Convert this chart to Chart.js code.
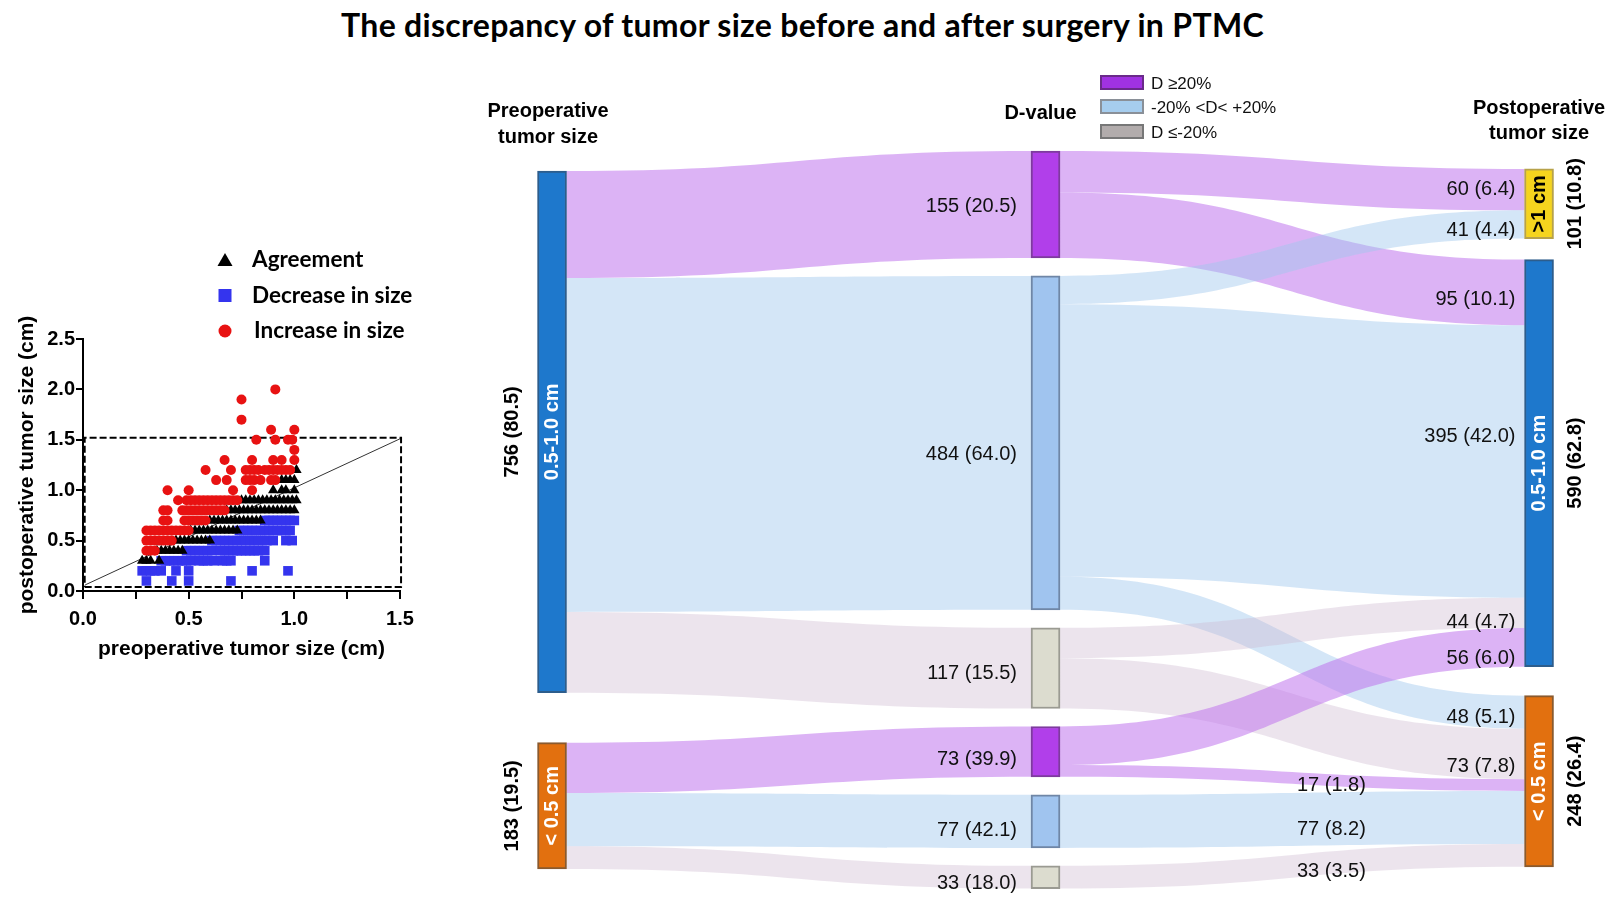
<!DOCTYPE html>
<html><head><meta charset="utf-8">
<script src="https://cdn.jsdelivr.net/npm/chart.js@4.4.1/dist/chart.umd.min.js"></script>
<style>
html,body{margin:0;padding:0;background:#fff;width:1617px;height:908px;overflow:hidden;}
#title{position:absolute;left:0;top:0;width:1605px;height:50px;line-height:50px;text-align:center;font-family:Lato,'Liberation Sans',sans-serif;font-weight:700;font-size:32px;letter-spacing:0.3px;color:#000;}
canvas{position:absolute;}
#scatter{left:0;top:230px;}
#sankey{left:440px;top:60px;}
</style></head><body>
<div id="title">The discrepancy of tumor size before and after surgery in PTMC</div>
<canvas id="scatter" width="440" height="440"></canvas>
<canvas id="sankey" width="1177" height="848"></canvas>
<script>
// ---------------- DATA ----------------
// Sankey
const preLabels = ['0.5-1.0 cm', '< 0.5 cm'];
const preCounts = [756, 183];
const prePercents = ['80.5', '19.5'];
const dLabels = ['D \u226520%', '-20% <D< +20%', 'D \u2264-20%'];
const midCounts = [155, 484, 117, 73, 77, 33];
const midPercents = ['20.5', '64.0', '15.5', '39.9', '42.1', '18.0'];
const postLabels = ['>1 cm', '0.5-1.0 cm', '< 0.5 cm'];
const postCounts = [101, 590, 248];
const postPercents = ['10.8', '62.8', '26.4'];
const flowSource = [0, 0, 1, 1, 1, 2, 2, 3, 3, 4, 5];
const flowTarget = [0, 1, 0, 1, 2, 1, 2, 1, 2, 2, 2];
const flowValues = [60, 95, 41, 395, 48, 44, 73, 56, 17, 77, 33];
const flowPercents = ['6.4', '10.1', '4.4', '42.0', '5.1', '4.7', '7.8', '6.0', '1.8', '8.2', '3.5'];
const columnTitles = [['Preoperative', 'tumor size'], ['D-value'], ['Postoperative', 'tumor size']];

// Scatter
const scatterSeries = ['Agreement', 'Decrease in size', 'Increase in size'];
const agreementPoints = [
 [1.01,1.2],
 [0.94,1.1],[0.96,1.1],[0.98,1.1],[1.00,1.1],
 [0.90,1.0],[0.94,1.0],[0.96,1.0],[1.00,1.0],
 [0.75,0.9],[0.77,0.9],[0.79,0.9],[0.81,0.9],[0.83,0.9],[0.85,0.9],[0.87,0.9],[0.89,0.9],[0.91,0.9],[0.93,0.9],[0.95,0.9],[0.97,0.9],[0.99,0.9],[1.01,0.9],
 [0.68,0.8],[0.70,0.8],[0.72,0.8],[0.74,0.8],[0.76,0.8],[0.78,0.8],[0.80,0.8],[0.82,0.8],[0.84,0.8],[0.86,0.8],[0.88,0.8],[0.90,0.8],[0.92,0.8],[0.94,0.8],[0.96,0.8],[0.98,0.8],[1.00,0.8],
 [0.60,0.7],[0.62,0.7],[0.64,0.7],[0.66,0.7],[0.68,0.7],[0.70,0.7],[0.72,0.7],[0.74,0.7],[0.76,0.7],[0.78,0.7],[0.80,0.7],[0.82,0.7],[0.84,0.7],
 [0.51,0.6],[0.53,0.6],[0.55,0.6],[0.57,0.6],[0.59,0.6],[0.61,0.6],[0.63,0.6],[0.65,0.6],[0.67,0.6],[0.69,0.6],[0.71,0.6],[0.73,0.6],
 [0.44,0.5],[0.46,0.5],[0.48,0.5],[0.50,0.5],[0.52,0.5],[0.54,0.5],[0.56,0.5],[0.58,0.5],[0.60,0.5],
 [0.35,0.4],[0.37,0.4],[0.39,0.4],[0.41,0.4],[0.43,0.4],[0.45,0.4],[0.47,0.4],
 [0.28,0.3],[0.30,0.3],[0.32,0.3],[0.36,0.3]
];
const decreasePoints = [
 [0.86,0.7],[0.88,0.7],[0.90,0.7],[0.92,0.7],[0.94,0.7],[0.96,0.7],[0.98,0.7],[1.00,0.7],
 [0.74,0.6],[0.76,0.6],[0.78,0.6],[0.80,0.6],[0.82,0.6],[0.84,0.6],[0.86,0.6],[0.88,0.6],[0.90,0.6],[0.92,0.6],[0.94,0.6],[0.96,0.6],[0.98,0.6],
 [0.61,0.5],[0.63,0.5],[0.65,0.5],[0.67,0.5],[0.69,0.5],[0.71,0.5],[0.73,0.5],[0.75,0.5],[0.77,0.5],[0.79,0.5],[0.81,0.5],[0.83,0.5],[0.85,0.5],[0.87,0.5],[0.90,0.5],[0.96,0.5],[0.99,0.5],
 [0.49,0.4],[0.51,0.4],[0.53,0.4],[0.55,0.4],[0.57,0.4],[0.59,0.4],[0.61,0.4],[0.65,0.4],[0.67,0.4],[0.69,0.4],[0.71,0.4],[0.73,0.4],[0.75,0.4],[0.77,0.4],[0.79,0.4],[0.81,0.4],[0.83,0.4],[0.86,0.4],
 [0.37,0.3],[0.39,0.3],[0.41,0.3],[0.43,0.3],[0.45,0.3],[0.47,0.3],[0.49,0.3],[0.51,0.3],[0.55,0.3],[0.57,0.3],[0.59,0.3],[0.62,0.3],[0.66,0.3],[0.68,0.3],[0.70,0.3],[0.86,0.3],
 [0.28,0.2],[0.30,0.2],[0.32,0.2],[0.34,0.2],[0.37,0.2],[0.44,0.2],[0.50,0.2],[0.80,0.2],[0.97,0.2],
 [0.30,0.1],[0.42,0.1],[0.50,0.1],[0.70,0.1]
];
const increasePoints = [
 [0.91,2.0],[0.75,1.9],[0.75,1.7],[0.89,1.6],[1.00,1.6],
 [0.82,1.5],[0.91,1.5],[0.97,1.5],[0.99,1.5],[1.00,1.4],
 [0.67,1.3],[0.80,1.3],[0.90,1.3],[0.94,1.3],[1.00,1.3],
 [0.58,1.2],[0.70,1.2],[0.77,1.2],[0.79,1.2],[0.81,1.2],[0.83,1.2],[0.86,1.2],[0.88,1.2],[0.90,1.2],[0.92,1.2],[0.94,1.2],[0.96,1.2],[0.98,1.2],
 [0.63,1.1],[0.68,1.1],[0.77,1.1],[0.79,1.1],[0.81,1.1],[0.84,1.1],[0.89,1.1],[0.91,1.1],
 [0.40,1.0],[0.50,1.0],[0.71,1.0],[0.80,1.0],
 [0.45,0.9],[0.49,0.9],[0.51,0.9],[0.53,0.9],[0.55,0.9],[0.57,0.9],[0.59,0.9],[0.61,0.9],[0.63,0.9],[0.65,0.9],[0.67,0.9],[0.69,0.9],[0.71,0.9],[0.73,0.9],
 [0.38,0.8],[0.40,0.8],[0.47,0.8],[0.49,0.8],[0.51,0.8],[0.53,0.8],[0.55,0.8],[0.57,0.8],[0.59,0.8],[0.61,0.8],[0.63,0.8],[0.65,0.8],[0.67,0.8],
 [0.38,0.7],[0.40,0.7],[0.48,0.7],[0.50,0.7],[0.52,0.7],[0.54,0.7],[0.56,0.7],[0.58,0.7],
 [0.30,0.6],[0.32,0.6],[0.34,0.6],[0.36,0.6],[0.38,0.6],[0.40,0.6],[0.42,0.6],[0.44,0.6],[0.46,0.6],[0.48,0.6],[0.50,0.6],
 [0.30,0.5],[0.32,0.5],[0.34,0.5],[0.36,0.5],[0.38,0.5],[0.40,0.5],[0.42,0.5],
 [0.30,0.4],[0.32,0.4],[0.34,0.4]
];
const refBox = [[0.008,0.04],[1.505,0.04],[1.505,1.52],[0.008,1.52],[0.008,0.04]];
const refDiagonal = [[0.01,0.06],[1.5,1.51]];
const xTicks = [0, 0.5, 1.0, 1.5];
const yTicks = [0, 0.5, 1.0, 1.5, 2.0, 2.5];

// ---------------- STYLE / LAYOUT ----------------
Chart.defaults.font.family = "'Liberation Sans', Arial, sans-serif";
const FONT = "'Liberation Sans', Arial, sans-serif";
const NODE_W = 29;
const colStart = [0, -29, -3];
const colGaps = [[72.5], [26, 26, 26, 26, 26], [30.4, 42]];
const preFill = ['#1e78cc', '#e2700f'];
const preBorder = ['#2d5d8c', '#8a5a2e'];
const postFill = ['#f5d41e', '#1e78cc', '#e2700f'];
const postBorder = ['#b7a24a', '#2d5d8c', '#8a5a2e'];
const postText = ['#000', '#fff', '#fff'];
const dFill = ['#b13fea', '#a0c4ef', '#dcdccf'];
const dBorder = ['#7e3b9e', '#6f86a6', '#9a9a92'];
const linkColors = ['rgba(192,116,236,0.55)', 'rgba(160,200,238,0.45)', 'rgba(205,185,208,0.38)'];
const legendFill = ['#a032e2', '#a6cdee', '#b2acac'];
const legendBorder = ['#6a2a8a', '#8a9098', '#777'];
const flowLabelMid = [false, false, false, false, false, false, false, false, true, true, true];
const flowLabelDy = [0, 7, 6, -25, 5, 10, 12, 11, 7, 10, 5];
const midLabelDy = [2, 12, 5, 8, 9, 6];

// ---------------- SANKEY GEOMETRY (in count units) ----------------
function stackColumn(counts, start, gaps) {
  const out = []; let y = start;
  counts.forEach((c, i) => { out.push([y, y + c]); y += c + (gaps[i] || 0); });
  return out;
}
const preNodes = stackColumn(preCounts, colStart[0], colGaps[0]);
const midNodes = stackColumn(midCounts, colStart[1], colGaps[1]);
const postNodes = stackColumn(postCounts, colStart[2], colGaps[2]);

const srcOff = midNodes.map(n => n[0]);
const tgtOff = postNodes.map(n => n[0]);
const flowGeom = flowValues.map((v, k) => {
  const s = flowSource[k]; const a = srcOff[s]; srcOff[s] += v;
  return { a0: a, a1: a + v };
});
flowValues.map((_, k) => k)
  .sort((p, q) => flowTarget[p] - flowTarget[q] || flowSource[p] - flowSource[q])
  .forEach(k => { const t = flowTarget[k]; flowGeom[k].b0 = tgtOff[t]; tgtOff[t] += flowValues[k]; flowGeom[k].b1 = tgtOff[t]; });

const nodeData = [
  ...preNodes.map(r => ({ x: 0, y: r })),
  ...midNodes.map(r => ({ x: 1, y: r })),
  ...postNodes.map(r => ({ x: 2, y: r }))
];
const nodeFill = [...preFill, ...midNodes.map((_, i) => dFill[i % 3]), ...postFill];
const nodeBorder = [...preBorder, ...midNodes.map((_, i) => dBorder[i % 3]), ...postBorder];

function drawLink(ctx, x0, y0a, y0b, x1, y1a, y1b, color) {
  const xm = (x0 + x1) / 2;
  ctx.beginPath();
  ctx.moveTo(x0, y0a);
  ctx.bezierCurveTo(xm, y0a, xm, y1a, x1, y1a);
  ctx.lineTo(x1, y1b);
  ctx.bezierCurveTo(xm, y1b, xm, y0b, x0, y0b);
  ctx.closePath();
  ctx.fillStyle = color;
  ctx.fill();
}
function rotText(ctx, text, x, y, font, color) {
  ctx.save(); ctx.translate(x, y); ctx.rotate(-Math.PI / 2);
  ctx.font = font; ctx.fillStyle = color; ctx.textAlign = 'center'; ctx.textBaseline = 'middle';
  ctx.fillText(text, 0, 0); ctx.restore();
}

const sankeyPlugin = {
  id: 'sankeyFlows',
  beforeDatasetsDraw(chart) {
    const { ctx, scales: { x: xs, y: ys } } = chart;
    const h = NODE_W / 2;
    ctx.save();
    preNodes.forEach((pn, i) => {
      let off = pn[0];
      for (let j = 0; j < 3; j++) {
        const m = i * 3 + j, v = midCounts[m];
        drawLink(ctx, xs.getPixelForValue(0) + h, ys.getPixelForValue(off), ys.getPixelForValue(off + v),
          xs.getPixelForValue(1) - h, ys.getPixelForValue(midNodes[m][0]), ys.getPixelForValue(midNodes[m][1]), linkColors[j]);
        off += v;
      }
    });
    flowGeom.forEach((g, k) => {
      drawLink(ctx, xs.getPixelForValue(1) + h, ys.getPixelForValue(g.a0), ys.getPixelForValue(g.a1),
        xs.getPixelForValue(2) - h, ys.getPixelForValue(g.b0), ys.getPixelForValue(g.b1), linkColors[flowSource[k] % 3]);
    });
    ctx.restore();
  },
  afterDatasetsDraw(chart) {
    const { ctx, scales: { x: xs, y: ys } } = chart;
    const els = chart.getDatasetMeta(0).data;
    const h = NODE_W / 2;
    const boldF = 'bold 20px ' + FONT, regF = '20px ' + FONT;
    ctx.save();
    // pre nodes
    preLabels.forEach((lab, i) => {
      const e = els[i]; const cy = (e.y + e.base) / 2;
      rotText(ctx, lab, e.x, cy, boldF, '#fff');
      rotText(ctx, preCounts[i] + ' (' + prePercents[i] + ')', e.x - 40, cy, boldF, '#000');
    });
    // post nodes
    postLabels.forEach((lab, i) => {
      const e = els[preLabels.length + midNodes.length + i]; const cy = (e.y + e.base) / 2;
      rotText(ctx, lab, e.x, cy, boldF, postText[i]);
      rotText(ctx, postCounts[i] + ' (' + postPercents[i] + ')', e.x + 36, cy, boldF, '#000');
    });
    // mid labels
    ctx.font = regF; ctx.fillStyle = '#111'; ctx.textBaseline = 'middle';
    midCounts.forEach((c, i) => {
      const e = els[preLabels.length + i]; const cy = (e.y + e.base) / 2;
      ctx.textAlign = 'right';
      ctx.fillText(c + ' (' + midPercents[i] + ')', e.x - h - 14, cy + midLabelDy[i]);
    });
    // flow labels
    const xMidR = xs.getPixelForValue(1) + h, xPostL = xs.getPixelForValue(2) - h;
    flowValues.forEach((v, k) => {
      const g = flowGeom[k];
      const txt = v + ' (' + flowPercents[k] + ')';
      const cB = (ys.getPixelForValue(g.b0) + ys.getPixelForValue(g.b1)) / 2;
      if (flowLabelMid[k]) {
        const cA = (ys.getPixelForValue(g.a0) + ys.getPixelForValue(g.a1)) / 2;
        ctx.textAlign = 'left';
        ctx.fillText(txt, xMidR + (xPostL - xMidR) * 0.51, (cA + cB) / 2 + flowLabelDy[k]);
      } else {
        ctx.textAlign = 'right';
        ctx.fillText(txt, xPostL - 9, cB + flowLabelDy[k]);
      }
    });
    // column titles
    ctx.font = boldF; ctx.fillStyle = '#000'; ctx.textAlign = 'center';
    const titleDx = [-4, -5, 0];
    const titleY = [[51, 77], [53], [48, 73]];
    columnTitles.forEach((lines, c) => {
      lines.forEach((t, li) => ctx.fillText(t, xs.getPixelForValue(c) + titleDx[c], titleY[c][li]));
    });
    // legend
    ctx.font = '17px ' + FONT; ctx.textAlign = 'left';
    dLabels.forEach((t, i) => {
      const by = [16, 40, 65][i];
      ctx.fillStyle = legendFill[i]; ctx.fillRect(661, by, 42, 13);
      ctx.strokeStyle = legendBorder[i]; ctx.lineWidth = 2; ctx.strokeRect(661, by, 42, 13);
      ctx.fillStyle = '#111'; ctx.fillText(t, 711, by + 8);
    });
    ctx.restore();
  }
};

new Chart(document.getElementById('sankey'), {
  type: 'bar',
  data: { datasets: [{ data: nodeData, backgroundColor: nodeFill, borderColor: nodeBorder, borderWidth: 2, borderSkipped: false, barThickness: NODE_W }] },
  options: {
    responsive: false, animation: false, events: [],
    layout: { padding: 0 },
    plugins: { legend: { display: false }, tooltip: { enabled: false } },
    scales: {
      x: { type: 'linear', display: false, offset: false, min: -0.227, max: 2.158 },
      y: { type: 'linear', display: false, reverse: true, min: -160.87, max: 1068.1 }
    }
  },
  plugins: [sankeyPlugin]
});

// ---------------- SCATTER ----------------
const toXY = arr => arr.map(p => ({ x: p[0], y: p[1] }));
const seriesStyle = [
  { pointStyle: 'triangle', radius: 6, color: '#000000' },
  { pointStyle: 'rect', radius: 6.8, color: '#3434ee' },
  { pointStyle: 'circle', radius: 5, color: '#e81212' }
];
const seriesData = [agreementPoints, decreasePoints, increasePoints];

const scatterLegend = {
  id: 'scatterLegend',
  afterDraw(chart) {
    const ctx = chart.ctx; ctx.save();
    const rows = [30, 66, 101];
    scatterSeries.forEach((name, i) => {
      const st = seriesStyle[i]; const y = rows[i]; const x = 225;
      ctx.fillStyle = st.color; ctx.beginPath();
      if (st.pointStyle === 'triangle') { ctx.moveTo(x, y - 7); ctx.lineTo(x + 7.5, y + 6); ctx.lineTo(x - 7.5, y + 6); ctx.closePath(); }
      else if (st.pointStyle === 'rect') { ctx.rect(x - 6.5, y - 7, 13, 13); }
      else { ctx.arc(x, y, 6.5, 0, Math.PI * 2); }
      ctx.fill();
      ctx.fillStyle = '#000'; ctx.font = 'bold 22.5px Lato, ' + FONT; ctx.textAlign = 'left'; ctx.textBaseline = 'middle';
      ctx.fillText(name, i === 2 ? 254 : 252, y);
    });
    ctx.restore();
  }
};

const scatterDatasets = [2, 0, 1].map(i => ({
  label: scatterSeries[i], data: toXY(seriesData[i]),
  pointStyle: seriesStyle[i].pointStyle, pointRadius: seriesStyle[i].radius,
  backgroundColor: seriesStyle[i].color, borderWidth: 0, showLine: false
}));
scatterDatasets.push({ type: 'line', label: 'box', data: toXY(refBox), showLine: true, borderColor: '#000', borderWidth: 2, borderDash: [7, 3], pointRadius: 0, fill: false, clip: false, tension: 0 });
scatterDatasets.push({ type: 'line', label: 'diag', data: toXY(refDiagonal), showLine: true, borderColor: '#333', borderWidth: 1, pointRadius: 0, fill: false, clip: false, tension: 0 });

const tickFont = { size: 20, weight: 'bold' };
const axisTitleFont = { size: 21, weight: 'bold' };
new Chart(document.getElementById('scatter'), {
  type: 'scatter',
  data: { datasets: scatterDatasets },
  options: {
    responsive: false, animation: false, events: [],
    layout: { padding: { top: 109, right: 40, left: 0, bottom: 0 } },
    plugins: { legend: { display: false }, tooltip: { enabled: false } },
    scales: {
      x: {
        type: 'linear', min: 0, max: 1.5,
        afterFit(s) { s.height = 79; },
        afterBuildTicks(s) { s.ticks = [0, 0.25, 0.5, 0.75, 1.0, 1.25, 1.5].map(v => ({ value: v })); },
        ticks: { callback: v => xTicks.some(t => Math.abs(t - v) < 1e-9) ? v.toFixed(1) : '', font: tickFont, color: '#000', padding: 8, maxRotation: 0, autoSkip: false },
        grid: { drawOnChartArea: false, color: '#000', lineWidth: 2, tickLength: 8 },
        border: { color: '#000', width: 2 },
        title: { display: true, text: 'preoperative tumor size (cm)', font: axisTitleFont, color: '#000', padding: { top: 0, bottom: 8 } }
      },
      y: {
        type: 'linear', min: 0, max: 2.5,
        afterFit(s) { s.width = 83; },
        afterBuildTicks(s) { s.ticks = yTicks.map(v => ({ value: v })); },
        ticks: { callback: v => v.toFixed(1), font: tickFont, color: '#000', padding: 1, autoSkip: false },
        grid: { drawOnChartArea: false, color: '#000', lineWidth: 2, tickLength: 7 },
        border: { color: '#000', width: 2 },
        title: { display: true, text: 'postoperative tumor size (cm)', font: axisTitleFont, color: '#000', padding: { top: 15, bottom: 0 } }
      }
    }
  },
  plugins: [scatterLegend]
});
</script>
</body></html>
